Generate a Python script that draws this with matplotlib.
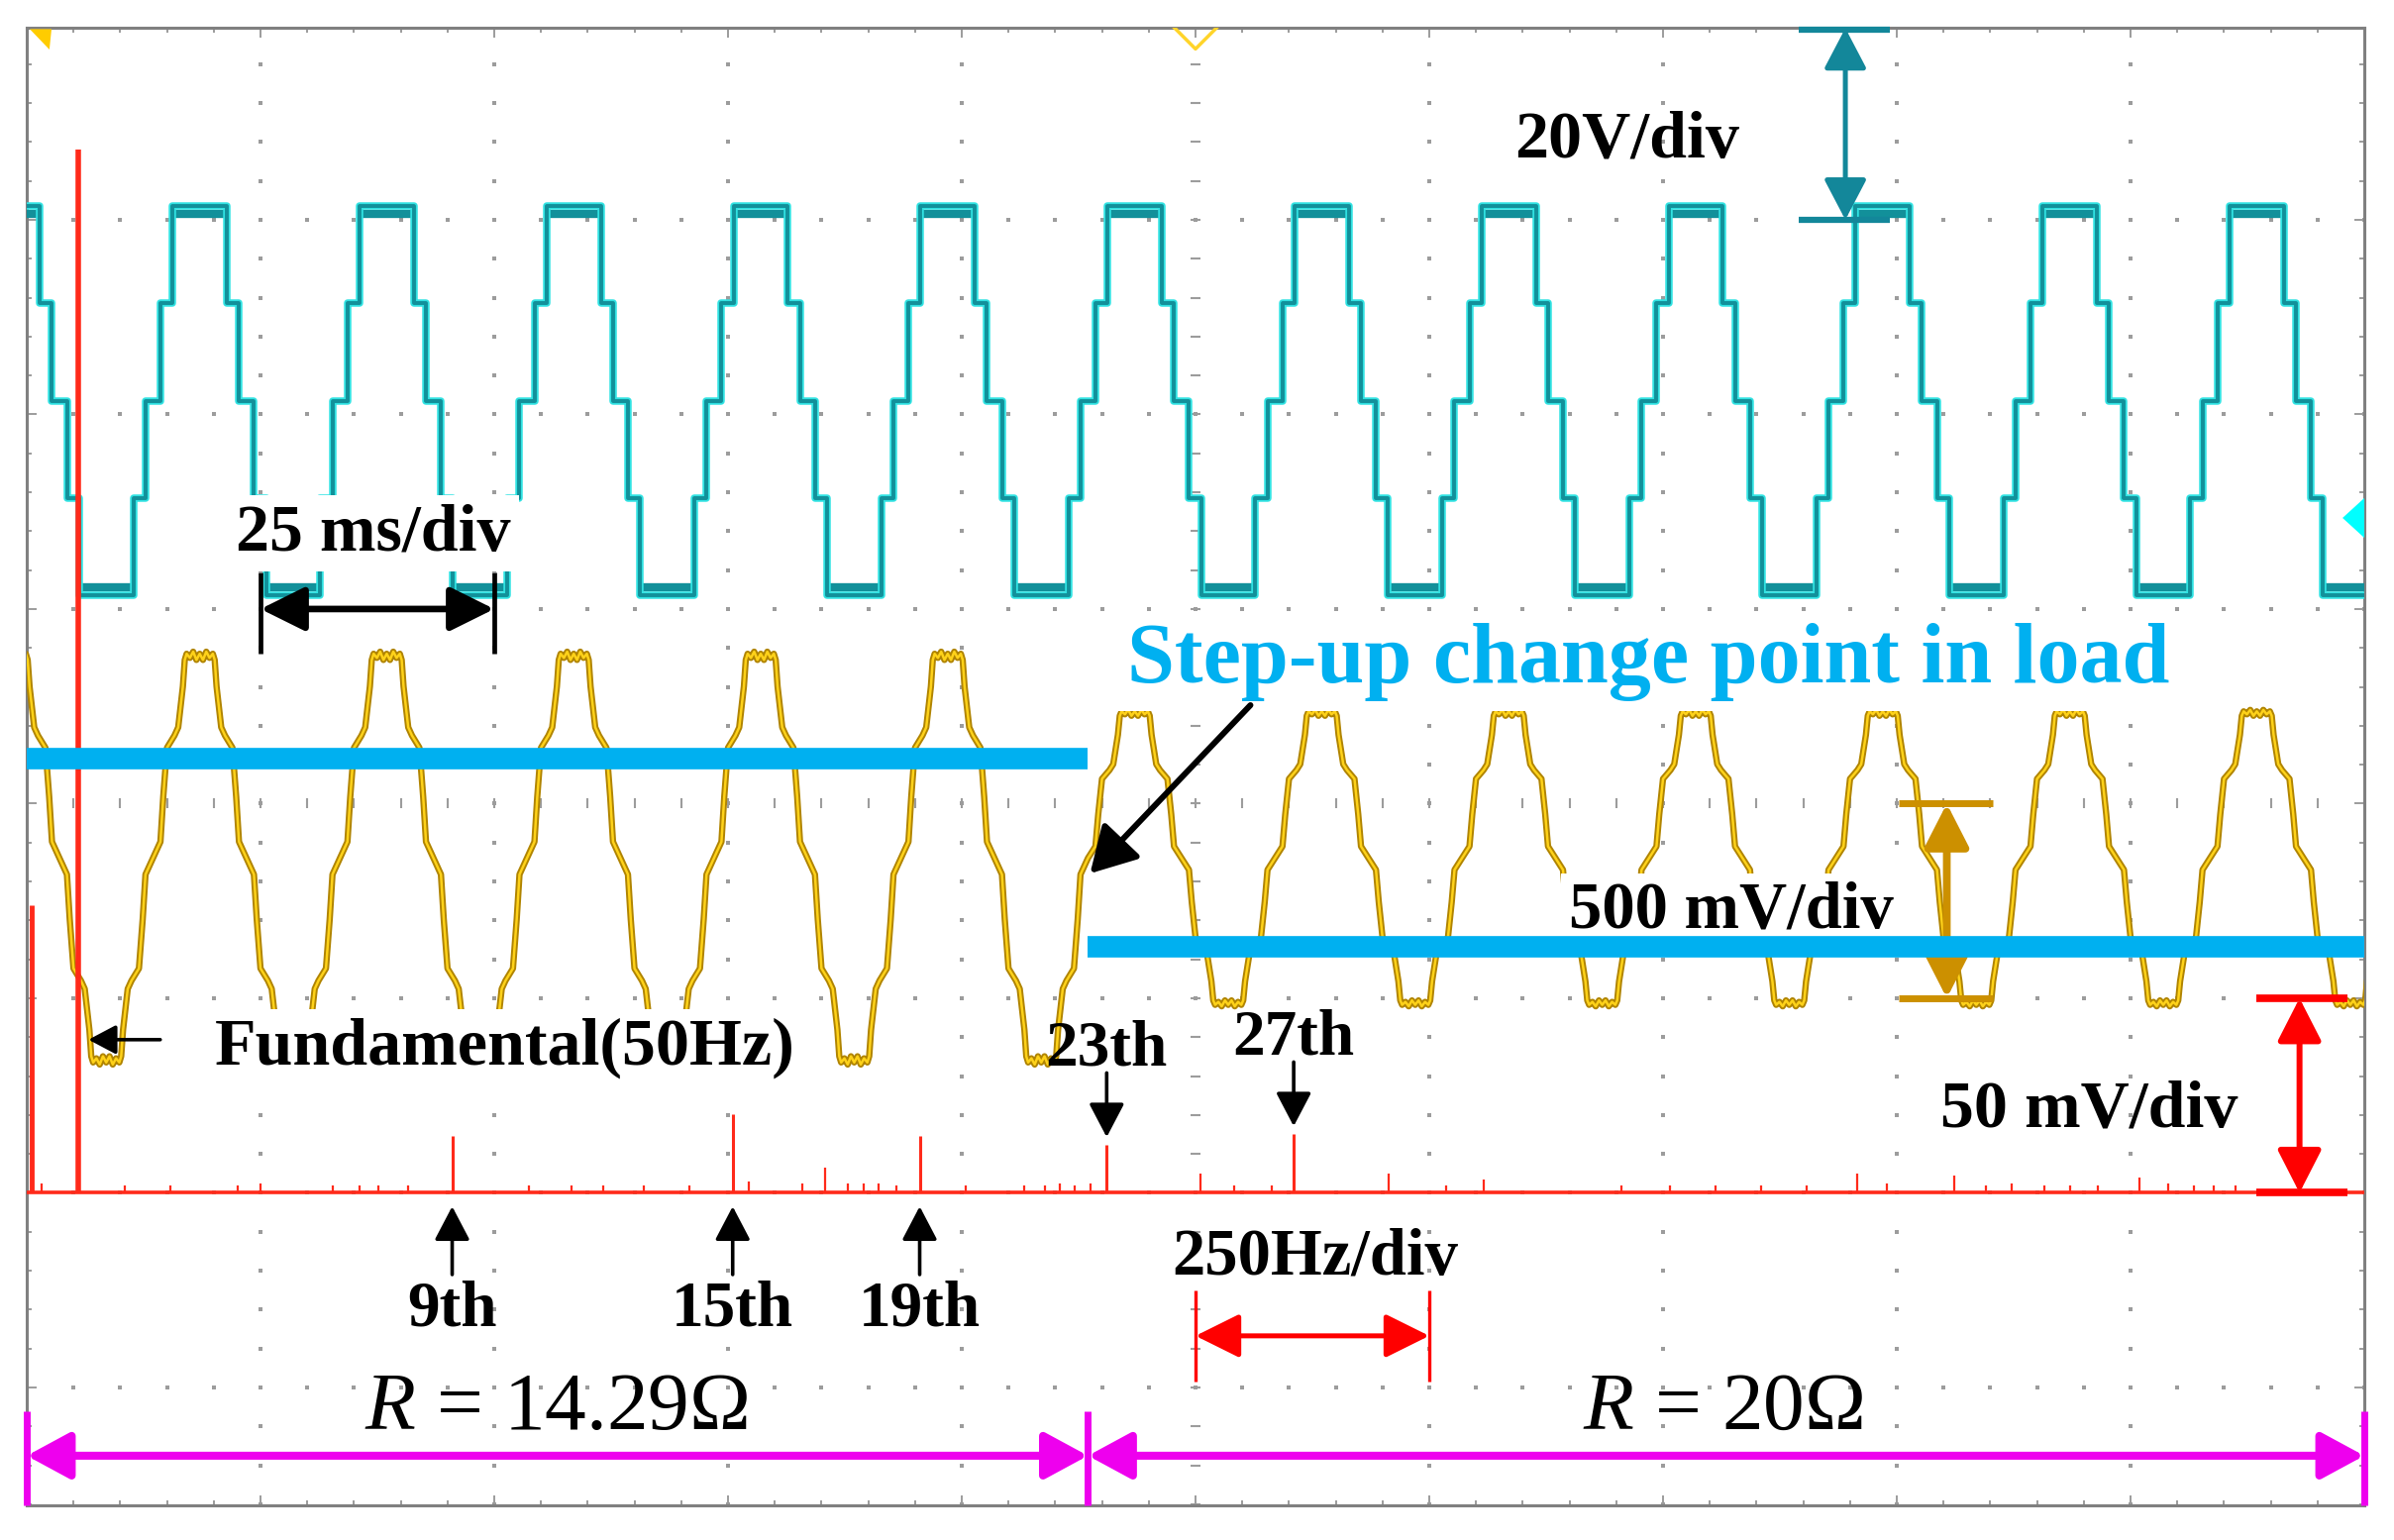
import numpy as np
import matplotlib
matplotlib.use("Agg")
import matplotlib.pyplot as plt

plt.rcParams['font.family'] = ['Liberation Serif', 'DejaVu Serif']
plt.rcParams['mathtext.fontset'] = 'custom'
plt.rcParams['mathtext.rm'] = 'Liberation Serif'
plt.rcParams['mathtext.it'] = 'Liberation Serif:italic'

# ---- scope settings ----
ms_per_div = 25
hz_per_div = 250
hz_offset = 5            # spectrum trace starts a little left of 0 Hz
period_ms = 20.0
step_ms = 113.5          # load step instant

# CH1 (cyan) five level inverter voltage, 20 V/div
cyan_levels_v = [20, 10, 0, -10, -20]
cyan_edges_ms = [2.9, 4.2, 5.8, 7.1]      # switching instants after a positive peak centre
cyan_first_peak_ms = 18.5
cyan_center_div = 5.07
cyan_v_per_div = 20

# CH2 (yellow) load voltage, 500 mV/div, quarter wave from peak centre to zero crossing
yel_t_ms = [0.0, 0.35, 0.7, 1.05, 1.4, 1.6, 1.8, 2.3, 2.7, 3.5, 3.9, 4.2, 5.0]
yel_shape = [1.0, 0.97, 1.01, 0.98, 1.0, 0.97, 0.84, 0.64, 0.60, 0.54, 0.30, 0.08, 0.0]
yel_amp_before_mv = 525
yel_amp_after_mv = 377
yel_center_div = 2.72
yel_mv_per_div = 500

# FFT (red), 50 mV/div
harm_order = [1, 9, 15, 19, 23, 27]
harm_mv = [268, 14.6, 20.2, 14.6, 12.3, 15.1]
harm_labels = ['', '9th', '15th', '19th', '23th', '27th']
dc_mv = 74
small_hz = [11, 100, 149, 221, 245, 322, 351, 371, 403, 532, 578, 611, 655, 704, 767,
            824, 849, 873, 890, 906, 925, 999, 1062, 1084, 1100, 1116, 1133, 1250, 1286,
            1327, 1452, 1513, 1553, 1700, 1752, 1801, 1850, 1899, 1953, 1984, 2056, 2090,
            2118, 2153, 2180, 2210, 2255, 2285, 2313, 2334, 2357]
small_mv = [2.5, 2, 2, 2, 2.5, 2, 2, 2, 2, 2, 2, 2, 2, 2, 3,
            2.5, 6.4, 2.5, 2.5, 2.5, 2, 2, 2, 2, 2.5, 2, 2.5, 5, 2,
            2, 5, 2, 3.5, 2, 2, 2, 2, 2, 5, 2.5, 4.5, 2,
            2.5, 2, 2, 2, 4, 2.5, 2, 2, 2]
fft_base_div = 1
fft_mv_per_div = 50

# ---- screen geometry ----
fig = plt.figure(figsize=(24.17, 15.55), dpi=100)
L, B, W, H = 27 / 2417, 35 / 1555, 2360 / 2417, 1492 / 1555
ylo, yhi = -0.606, 6.987
grid_c = '#9c9c9c'

ax = fig.add_axes([L, B, W, H], label='grid')
ax.set_xlim(0, 10)
ax.set_ylim(ylo, yhi)
ax.set_xticks(range(0, 11))
ax.set_yticks(range(0, 7))
ax.set_xticks(np.arange(0, 51) * 0.2, minor=True)
ax.set_yticks(np.arange(-3, 35) * 0.2, minor=True)
ax.tick_params(which='both', direction='in', top=True, right=True,
               labelbottom=False, labelleft=False, color=grid_c, width=1.4)
ax.tick_params(which='major', length=7)
ax.tick_params(which='minor', length=3.5)
for s in ax.spines.values():
    s.set_color('#808080')
    s.set_linewidth(2.2)

mx = np.arange(0, 51) * 0.2
my = np.arange(-3, 35) * 0.2
gx, gy = np.meshgrid(mx, [0, 1, 2, 4, 5, 6])
ax.scatter(gx.ravel(), gy.ravel(), s=7, marker='s', color=grid_c, lw=0)
gx, gy = np.meshgrid([1, 2, 3, 4, 6, 7, 8, 9], my)
ax.scatter(gx.ravel(), gy.ravel(), s=7, marker='s', color=grid_c, lw=0)
ax.plot(mx, np.full(mx.size, 3.0), ls='none', marker='|', ms=7, mew=1.5, color=grid_c)
ax.plot(np.full(my.size, 5.0), my, ls='none', marker='_', ms=7, mew=1.5, color=grid_c)


def overlay(name, xlim, center_div, per_div):
    a = fig.add_axes([L, B, W, H], frameon=False, label=name)
    a.set_xlim(*xlim)
    a.set_ylim((ylo - center_div) * per_div, (yhi - center_div) * per_div)
    a.set_xticks([])
    a.set_yticks([])
    return a


# ---- CH1 cyan ----
ax_c = overlay('ch1', (0, 10 * ms_per_div), cyan_center_div, cyan_v_per_div)
rel = [-e for e in cyan_edges_ms[::-1]] + cyan_edges_ms
after = cyan_levels_v[3::-1] + cyan_levels_v[1:]
ct, cv = [], []
for k in range(-2, 13):
    p = cyan_first_peak_ms + k * period_ms
    ct += [p + r for r in rel]
    cv += after
ct = np.array(ct)
cv = np.array(cv)
# the flat tops/bottoms are smeared into a dark band on the screen
top = cv[:-1] == cyan_levels_v[0]
bot = cv[:-1] == cyan_levels_v[-1]
ax_c.hlines(cv[:-1][top] - 0.8, ct[:-1][top], ct[1:][top], color='#12909a', lw=6)
ax_c.hlines(cv[:-1][bot] + 0.8, ct[:-1][bot], ct[1:][bot], color='#12909a', lw=6)
ax_c.step(ct, cv, where='post', color='#30e2e2', lw=5.4)
ax_c.step(ct, cv, where='post', color='#12909a', lw=2.8)

# ---- CH2 yellow ----
ax_y = overlay('ch2', (0, 10 * ms_per_div), yel_center_div, yel_mv_per_div)
qt = np.array(yel_t_ms)
qy = np.array(yel_shape)
pos_t = np.concatenate([-qt[::-1], qt[1:]])
pos_y = np.concatenate([qy[::-1], qy[1:]])
cyc_t = np.concatenate([pos_t, pos_t[1:] + period_ms / 2])
cyc_y = np.concatenate([pos_y, -pos_y[1:]])
yt, yv = [], []
for k in range(-1, 13):
    p = cyan_first_peak_ms + k * period_ms
    yt.append(cyc_t + p)
    yv.append(cyc_y)
yt = np.concatenate(yt)
yv = np.concatenate(yv)
yv = yv * np.where(yt < step_ms, yel_amp_before_mv, yel_amp_after_mv)
ax_y.plot(yt, yv, color='#b08400', lw=4.6)
ax_y.plot(yt, yv, color='#ffd21a', lw=1.8)

# ---- FFT red ----
ax_f = overlay('fft', (-hz_offset, 10 * hz_per_div - hz_offset), fft_base_div, fft_mv_per_div)
red = '#ff2a1a'
ax_f.axhline(0, color=red, lw=2.6)
ax_f.vlines(small_hz, 0, small_mv, color=red, lw=1.6)
ax_f.vlines([0], 0, [dc_mv], color=red, lw=3.5)
hf = [50 * n for n in harm_order]
ax_f.vlines(hf[:1], 0, harm_mv[:1], color=red, lw=4.0)
ax_f.vlines(hf[1:], 0, harm_mv[1:], color=red, lw=2.2)

ah = dict(arrowstyle='-|>,head_length=1.05,head_width=0.55', color='black', lw=2.6,
          shrinkA=0, shrinkB=0, mutation_scale=20)
for f, m, lab in zip(hf[1:], harm_mv[1:], harm_labels[1:]):
    if f < 1100:
        ax_f.annotate('', xy=(f, -3.5), xytext=(f, -21), arrowprops=ah)
        ax_f.text(f, -34, lab, ha='center', va='baseline', fontsize=47, fontweight='bold')
    else:
        ax_f.annotate('', xy=(f, m + 2.0), xytext=(f, m + 18.5), arrowprops=ah)
        ax_f.text(f, m + 20.5, lab, ha='center', va='baseline', fontsize=47, fontweight='bold')

# ---- annotations (division units) ----
an = fig.add_axes([L, B, W, H], frameon=False, label='notes')
an.set_xlim(0, 10)
an.set_ylim(ylo, yhi)
an.axis('off')


def darrow(p0, p1, color, lw, hl=1.33, hw=0.68):
    an.annotate('', xy=p1, xytext=p0, annotation_clip=False,
                arrowprops=dict(arrowstyle=f'<|-|>,head_length={hl},head_width={hw}',
                                color=color, lw=lw, shrinkA=0, shrinkB=0, mutation_scale=20))


def bar(xs, ys, color, lw):
    an.plot(xs, ys, color=color, lw=lw, solid_capstyle='butt', clip_on=False)


def label(x, y, s, size, color='black', weight='bold', box=False):
    kw = dict(ha='center', va='baseline', fontsize=size, fontweight=weight, color=color)
    if box:
        kw['bbox'] = dict(boxstyle='square,pad=0.12', fc='white', ec='none')
    an.text(x, y, s, **kw)


blue = '#00b0f0'
an.plot([0, 4.54], [3.232, 3.232], color=blue, lw=15.6, solid_capstyle='butt', zorder=6)
an.plot([4.54, 10], [2.265, 2.265], color=blue, lw=15.6, solid_capstyle='butt', zorder=6)

# 20 V/div
teal = '#13879a'
darrow((7.78, 6.985), (7.78, 6.0), teal, 3.6, 1.26, 0.66)
bar([7.58, 7.97], [6.975, 6.975], teal, 4.5)
bar([7.58, 7.97], [6.0, 6.0], teal, 4.5)
label(6.847, 6.322, '20V/div', 49)

# 25 ms/div
darrow((1.0, 4.0), (2.0, 4.0), 'black', 4.8, 1.37, 0.68)
bar([1.0, 1.0], [3.77, 4.19], 'black', 3.4)
bar([2.0, 2.0], [3.77, 4.19], 'black', 3.4)
label(1.484, 4.305, '25 ms/div', 49, box=True)

# step-up note
label(6.937, 3.623, 'Step-up change point in load', 62, color=blue, box=True)
an.annotate('', xy=(4.549, 2.641), xytext=(5.235, 3.506),
            arrowprops=dict(arrowstyle='-|>,head_length=1.4,head_width=0.8', color='black',
                            lw=4.3, shrinkA=0, shrinkB=0, mutation_scale=20))

# 500 mV/div
gold = '#cc9000'
darrow((8.214, 3.0), (8.214, 2.0), gold, 5.6)
bar([8.01, 8.41], [3.0, 3.0], gold, 5.0)
bar([8.01, 8.41], [2.0, 2.0], gold, 5.0)
label(7.29, 2.361, '500 mV/div', 48, box=True)

# 50 mV/div
rd = '#ff0000'
darrow((9.723, 2.0), (9.723, 1.0), rd, 4.3)
bar([9.54, 9.93], [2.0, 2.0], rd, 5.5)
bar([9.54, 9.93], [1.0, 1.0], rd, 5.5)
label(8.823, 1.34, '50 mV/div', 49)

# fundamental
label(2.045, 1.662, 'Fundamental(50Hz)', 49, box=True)
an.annotate('', xy=(0.264, 1.787), xytext=(0.571, 1.787),
            arrowprops=dict(arrowstyle='-|>,head_length=0.85,head_width=0.45', color='black',
                            lw=2.6, shrinkA=0, shrinkB=0, mutation_scale=20))

# 250 Hz/div
label(5.51, 0.58, '250Hz/div', 48)
darrow((5.0, 0.265), (6.0, 0.265), rd, 3.6, 1.37, 0.68)
bar([5.0, 5.0], [0.03, 0.50], rd, 2.4)
bar([6.0, 6.0], [0.03, 0.50], rd, 2.4)

# load resistance spans
mag = '#ee00ee'
label(2.267, -0.213, '$R$ = 14.29Ω', 60, weight='normal')
label(7.257, -0.213, '$R$ = 20Ω', 60, weight='normal')
darrow((0.0, -0.351), (4.54, -0.351), mag, 5.8, 1.33, 0.72)
darrow((4.54, -0.351), (10.0, -0.351), mag, 5.8, 1.33, 0.72)
for xb in (0.0, 4.54, 10.0):
    bar([xb, xb], [-0.12, -0.606], mag, 5.0)

# scope markers
an.fill([0.013, 0.106, 0.097], [6.98, 6.98, 6.875], color='#ffcc00', lw=0)
an.plot([4.907, 5.0, 5.093], [6.99, 6.878, 6.99], color='#ffd42a', lw=2.5)
an.fill([9.907, 10.0, 10.0], [4.468, 4.57, 4.366], color='#00ffff', lw=0)

fig.savefig('out.png', dpi=100, facecolor='white')
